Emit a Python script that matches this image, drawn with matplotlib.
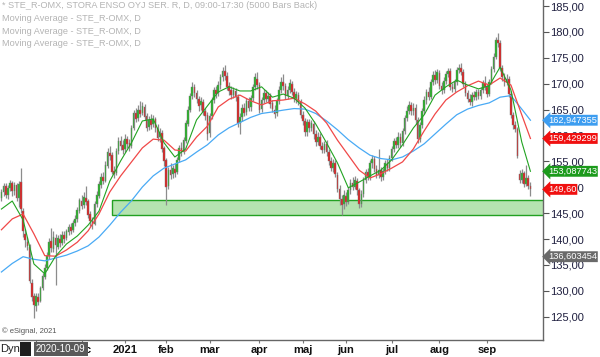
import numpy as np
import matplotlib
matplotlib.use("Agg")
import matplotlib.pyplot as plt
from matplotlib.patches import Rectangle
from matplotlib.ticker import FuncFormatter

plt.rcParams['font.family'] = ['Liberation Sans', 'DejaVu Sans']

# daily candles STE_R-OMX, 2020-10-09 .. 2021-09-29 (trading-day index)
opens = [148.0, 149.0, 150.2, 148.6, 149.8, 150.8, 149.2, 150.4, 148.0, 151.0,
         145.5, 141.0, 139.5, 138.5, 131.5, 129.0, 127.0, 128.8, 128.0, 130.5,
         132.6, 134.5, 136.8, 139.6, 138.0, 140.3, 138.5, 140.0, 139.3, 140.8,
         140.2, 141.4, 142.3, 141.8, 143.1, 143.8, 145.5, 147.4, 146.5, 148.0,
         147.3, 144.8, 143.4, 143.0, 146.7, 148.4, 150.5, 152.0, 151.3, 154.2,
         156.7, 156.2, 153.2, 152.8, 157.0, 159.0, 158.2, 157.4, 159.3, 158.5,
         158.0, 161.4, 164.3, 163.3, 165.0, 164.3, 165.5, 163.7, 161.6, 163.0,
         162.2, 163.1, 161.5, 159.7, 160.5, 157.5, 155.2, 150.2, 153.3, 152.5,
         153.6, 153.0, 155.2, 157.5, 156.9, 159.0, 162.3, 165.0, 167.6, 169.3,
         168.2, 167.0, 165.8, 166.5, 164.7, 164.0, 160.4, 163.8, 166.8, 168.7,
         168.2, 169.8, 171.2, 172.4, 171.5, 169.5, 168.7, 167.8, 168.6, 167.5,
         162.5, 163.6, 165.3, 164.5, 166.6, 165.5, 167.2, 169.4, 171.0, 169.8,
         165.2, 166.8, 168.2, 167.0, 167.6, 166.2, 165.0, 164.3, 166.6, 168.8,
         170.4, 169.6, 167.6, 168.8, 170.0, 168.4, 167.0, 167.8, 166.4, 164.0,
         162.8, 160.6, 162.6, 161.4, 162.2, 160.2, 158.8, 159.8, 158.0, 157.2,
         158.4, 156.8, 155.0, 153.8, 154.6, 152.4, 149.6, 147.8, 146.8, 148.4,
         147.2, 149.4, 150.8, 150.0, 151.2, 149.4, 146.8, 148.8, 151.4, 153.0,
         152.0, 154.6, 155.4, 153.6, 152.4, 153.4, 152.0, 153.2, 154.6, 153.8,
         155.6, 157.4, 159.0, 158.2, 159.8, 158.6, 160.8, 163.4, 164.8, 165.8,
         164.8, 165.4, 163.0, 159.4, 162.0, 164.8, 166.8, 168.4, 167.4, 170.4,
         171.6, 170.8, 172.0, 169.6, 168.8, 170.6, 171.8, 172.4, 169.4, 169.0,
         170.4, 172.6, 173.0, 172.2, 170.0, 168.2, 167.0, 166.4, 167.8, 167.4,
         168.4, 167.6, 168.8, 170.2, 169.4, 168.0, 170.4, 172.8, 175.2, 178.4,
         177.8, 173.0, 171.2, 170.4, 171.0, 168.0, 164.0, 162.0, 161.2, 152.6,
         151.4, 152.8, 150.6, 151.8, 150.2]
highs = [149.6, 150.8, 150.8, 150.4, 151.4, 151.2, 151.0, 150.8, 151.2, 153.7,
         146.0, 142.0, 140.5, 139.0, 132.3, 129.6, 129.5, 129.5, 131.0, 133.5,
         135.2, 137.5, 140.2, 142.2, 141.5, 141.0, 140.8, 141.0, 141.5, 141.6,
         142.0, 143.0, 143.2, 143.6, 144.6, 146.2, 148.0, 148.6, 149.0, 150.2,
         147.8, 145.5, 144.3, 147.3, 149.2, 151.2, 152.8, 153.0, 155.0, 157.6,
         158.0, 156.8, 154.2, 157.6, 159.8, 160.0, 159.2, 160.2, 160.0, 159.4,
         162.0, 165.0, 165.3, 165.8, 166.6, 166.4, 166.0, 164.4, 163.8, 164.2,
         164.0, 163.6, 162.2, 161.4, 161.0, 158.0, 155.6, 154.0, 154.6, 154.4,
         154.6, 155.8, 158.2, 158.8, 159.8, 163.0, 165.6, 168.2, 170.4, 170.0,
         168.8, 167.6, 167.4, 167.0, 165.4, 164.6, 164.4, 167.4, 169.4, 169.6,
         170.6, 171.8, 173.2, 173.6, 172.2, 170.4, 169.6, 169.4, 169.2, 168.0,
         164.4, 166.0, 166.2, 167.2, 167.4, 167.8, 170.0, 172.0, 172.2, 170.4,
         167.4, 169.0, 168.8, 168.4, 168.2, 166.8, 165.8, 167.2, 169.6, 171.2,
         171.8, 170.2, 169.6, 171.0, 170.6, 169.2, 168.6, 168.4, 167.0, 164.8,
         163.4, 163.2, 163.2, 163.0, 162.8, 161.0, 160.6, 160.4, 158.8, 159.0,
         159.2, 157.4, 155.8, 155.4, 155.2, 153.0, 150.4, 148.6, 149.4, 149.0,
         150.0, 151.6, 152.0, 152.2, 151.8, 149.8, 149.4, 152.0, 153.6, 153.8,
         155.2, 156.2, 156.0, 154.4, 157.4, 154.0, 153.8, 155.2, 155.4, 156.2,
         158.0, 159.6, 159.8, 160.6, 160.4, 161.4, 164.0, 165.6, 166.6, 166.4,
         166.2, 166.0, 163.6, 162.6, 165.4, 167.6, 169.0, 169.4, 171.0, 172.4,
         172.6, 172.8, 172.6, 170.4, 171.2, 172.4, 173.0, 173.0, 170.2, 171.0,
         173.2, 173.8, 174.0, 172.8, 170.6, 168.8, 168.0, 168.4, 168.6, 169.0,
         169.0, 169.4, 170.8, 171.4, 170.0, 171.0, 173.4, 176.0, 179.0, 179.8,
         178.4, 173.6, 172.0, 171.8, 171.4, 168.6, 164.6, 162.8, 161.6, 153.4,
         153.6, 153.2, 154.4, 152.4, 151.0]
lows = [147.4, 148.4, 148.0, 147.8, 149.2, 148.4, 148.6, 147.4, 146.2, 145.0,
        140.5, 138.5, 137.8, 131.5, 128.0, 124.8, 126.2, 127.2, 127.8, 130.2,
        132.3, 134.0, 136.2, 137.5, 137.6, 131.2, 138.0, 138.5, 138.9, 139.2,
        139.8, 140.8, 141.0, 141.3, 142.5, 143.3, 145.0, 145.8, 146.0, 146.5,
        144.0, 142.6, 141.9, 142.7, 146.2, 148.0, 149.8, 150.6, 151.0, 153.8,
        155.2, 152.5, 151.8, 152.4, 156.5, 157.2, 156.4, 156.8, 157.6, 157.0,
        157.6, 161.0, 162.6, 162.8, 163.6, 163.9, 163.0, 160.8, 161.0, 161.3,
        161.6, 160.6, 159.0, 158.8, 156.8, 154.2, 146.6, 149.6, 151.6, 151.8,
        152.0, 152.6, 154.8, 156.0, 156.4, 158.6, 161.8, 164.5, 167.0, 167.4,
        166.2, 164.8, 165.0, 164.0, 163.0, 159.2, 159.8, 163.2, 166.2, 167.2,
        167.6, 169.0, 170.6, 170.8, 168.8, 167.8, 167.0, 167.2, 166.6, 161.6,
        160.2, 162.8, 163.8, 164.0, 164.8, 164.8, 166.6, 168.8, 169.0, 164.4,
        164.6, 166.2, 166.4, 166.2, 165.4, 164.6, 163.4, 163.8, 166.0, 168.2,
        168.8, 167.0, 167.0, 168.2, 167.8, 166.4, 166.2, 165.8, 163.4, 162.0,
        160.0, 160.0, 160.6, 160.8, 159.4, 158.0, 158.2, 157.4, 156.6, 156.6,
        156.0, 154.4, 153.2, 153.0, 152.0, 149.0, 146.6, 144.7, 145.8, 146.4,
        146.8, 148.8, 149.4, 149.6, 148.6, 146.0, 146.2, 148.2, 150.8, 151.4,
        151.4, 153.8, 153.0, 151.8, 151.8, 151.2, 151.4, 152.6, 153.2, 153.2,
        155.0, 156.8, 157.6, 157.6, 157.8, 158.0, 160.2, 162.8, 164.2, 164.0,
        164.0, 162.2, 158.6, 158.8, 161.4, 164.2, 166.0, 166.8, 167.0, 169.8,
        170.0, 170.2, 169.0, 168.0, 168.2, 170.0, 171.2, 168.8, 168.4, 168.4,
        169.8, 172.0, 171.6, 169.4, 167.6, 166.4, 165.8, 165.6, 166.8, 166.8,
        167.0, 167.0, 168.2, 168.8, 167.4, 167.6, 170.0, 172.2, 174.8, 177.0,
        172.4, 170.6, 169.6, 169.8, 167.4, 163.4, 161.2, 160.6, 155.6, 150.8,
        150.8, 150.0, 150.2, 149.6, 148.4]
closes = [149.0, 150.2, 148.6, 149.8, 150.8, 149.2, 150.4, 148.0, 150.6, 145.8,
          141.5, 139.8, 138.6, 132.0, 128.8, 127.2, 129.0, 127.8, 130.5, 132.8,
          134.5, 136.8, 139.5, 138.2, 140.5, 138.8, 140.2, 139.2, 140.8, 140.0,
          141.5, 142.4, 141.6, 143.2, 143.9, 145.6, 147.5, 146.4, 148.2, 147.2,
          144.6, 143.5, 142.9, 146.8, 148.5, 150.6, 152.0, 151.2, 154.3, 156.8,
          156.0, 153.0, 152.6, 157.0, 159.0, 158.0, 157.2, 159.4, 158.4, 157.8,
          161.5, 164.4, 163.2, 165.0, 164.2, 165.6, 163.6, 161.5, 163.0, 162.0,
          163.2, 161.4, 159.6, 160.6, 157.4, 155.0, 150.0, 153.4, 152.4, 153.8,
          152.8, 155.2, 157.6, 156.8, 159.2, 162.4, 165.0, 167.6, 169.4, 168.2,
          167.0, 165.6, 166.6, 164.6, 163.8, 160.2, 163.8, 166.8, 168.8, 168.0,
          169.8, 171.2, 172.4, 171.4, 169.4, 168.6, 167.8, 168.8, 167.4, 162.4,
          163.6, 165.4, 164.4, 166.6, 165.4, 167.2, 169.4, 171.2, 169.8, 165.0,
          166.8, 168.2, 167.0, 167.6, 166.0, 165.2, 164.2, 166.6, 168.8, 170.4,
          169.6, 167.6, 168.8, 170.2, 168.4, 167.0, 168.0, 166.4, 164.0, 162.8,
          160.6, 162.6, 161.4, 162.4, 160.2, 158.8, 159.8, 158.0, 157.2, 158.4,
          156.8, 155.0, 153.8, 154.6, 152.6, 149.6, 147.8, 146.6, 148.6, 147.2,
          149.4, 150.8, 150.0, 151.4, 149.4, 146.8, 148.8, 151.4, 153.0, 152.0,
          154.6, 155.4, 153.6, 152.4, 153.4, 152.0, 153.2, 154.6, 153.8, 155.6,
          157.4, 159.0, 158.2, 159.8, 158.6, 160.8, 163.4, 164.8, 165.8, 164.8,
          165.4, 163.0, 159.4, 162.0, 164.8, 166.8, 168.4, 167.4, 170.4, 171.6,
          170.8, 172.2, 169.6, 168.8, 170.6, 171.8, 172.4, 169.4, 169.0, 170.4,
          172.6, 173.0, 172.2, 170.0, 168.2, 167.0, 166.4, 167.8, 167.4, 168.4,
          167.6, 168.8, 170.2, 169.4, 168.0, 170.4, 172.8, 175.2, 178.4, 177.8,
          173.0, 171.2, 170.4, 171.0, 168.0, 164.0, 162.0, 161.2, 156.0, 151.4,
          152.8, 150.6, 151.8, 150.2, 149.6]

# moving averages every 5 bars
ma_idx = list(range(0, 241, 5)) + [244]
ma_green = [145.8, 147.35, 143.7, 135.2, 133.3, 136.7, 139.05, 140.6, 142.7, 145.4,
            151.2, 155.1, 158.6, 162.8, 163.2, 158.6, 155.85, 157.4, 163.0, 165.7,
            168.4, 169.4, 168.6, 168.6, 169.4, 167.4, 168.0, 167.2, 165.3, 162.2,
            158.55, 154.7, 149.9, 151.0, 152.2, 153.3, 155.3, 158.2, 161.45, 164.0,
            167.8, 169.4, 170.7, 169.75, 169.0, 169.6, 173.2, 168.8, 158.75, 153.09]
ma_red = [141.8, 143.9, 144.85, 141.0, 136.8, 136.7, 137.9, 139.4, 141.6, 144.85,
          149.1, 152.2, 154.9, 157.6, 159.3, 159.1, 157.2, 157.0, 159.7, 161.8,
          165.5, 167.0, 167.8, 166.7, 165.9, 166.7, 166.85, 167.2, 166.1, 164.7,
          162.4, 159.1, 156.2, 153.3, 151.8, 152.6, 153.7, 154.9, 157.4, 160.9,
          164.15, 166.85, 168.4, 169.6, 170.5, 169.75, 171.1, 169.75, 164.0, 159.43]
ma_blue = [133.65, 135.3, 136.6, 136.1, 135.8, 136.35, 136.9, 137.7, 138.7, 140.4,
           142.7, 145.2, 147.4, 150.05, 152.2, 153.7, 154.5, 155.3, 156.8, 158.2,
           160.1, 161.5, 162.5, 163.5, 164.25, 164.55, 164.9, 165.2, 165.1, 164.25,
           162.8, 161.1, 159.2, 157.6, 156.2, 155.55, 155.3, 155.85, 157.0, 158.4,
           160.3, 162.2, 164.0, 165.1, 165.8, 166.3, 167.4, 167.7, 165.1, 162.95]

# support zone
zone_start = 51
zone_low, zone_high = 144.7, 147.6

# month ticks (first trading day index); nov sits under the date box
month_idx = [16, 37, 57, 76, 96, 119, 139, 159, 180, 202, 224]
month_lbl = ['', 'dec', '2021', 'feb', 'mar', 'apr', 'maj', 'jun', 'jul', 'aug', 'sep']

# last-value tags on the price scale
tag_vals = [162.947355, 159.429299, 153.087743, 149.60, 136.603454]
tag_txt = ['162,947355', '159,429299', '153,087743', '149,60', '136,603454']
tag_col = ['#3d9df0', '#f01010', '#1c9a1c', '#f01010', '#6a6a6a']

o = np.array(opens)
h = np.array(highs)
l = np.array(lows)
c = np.array(closes)
idx = np.arange(len(c))

fig = plt.figure(figsize=(6, 3.57), dpi=100)
ax = fig.add_axes([0, 17 / 357, 543 / 600, 340 / 357])

ax.add_patch(Rectangle((zone_start, zone_low), 300, zone_high - zone_low,
                       facecolor='#b5e3b0', edgecolor='#22a022', linewidth=1.0, zorder=1))

up = c >= o
body = np.maximum(np.abs(c - o), 0.25)
ax.vlines(idx, l, h, color='#8c8c8c', linewidth=0.9, zorder=2)
ax.bar(idx, body, bottom=np.minimum(o, c), width=0.75,
       color=np.where(up, '#25b525', '#e02020'), edgecolor='#7a7a7a', linewidth=0.3, zorder=3)

ax.plot(ma_idx, ma_blue, color='#49aaf5', linewidth=0.9, zorder=4)
ax.plot(ma_idx, ma_red, color='#f04848', linewidth=0.9, zorder=4)
ax.plot(ma_idx, ma_green, color='#22a322', linewidth=0.8, zorder=4)

ax.set_xlim(-0.65, 249.8)
ax.set_ylim(120.52, 186.16)

ax.yaxis.tick_right()
ax.set_yticks(np.arange(125, 186, 5))
ax.yaxis.set_major_formatter(FuncFormatter(lambda v, p: f'{v:.2f}'.replace('.', ',')))
ax.tick_params(axis='y', length=4, width=0.8, color='#555555', labelsize=8,
               labelcolor='#202040', pad=1)
ax.set_xticks(month_idx)
ax.set_xticklabels(month_lbl, fontweight='bold')
ax.tick_params(axis='x', length=2, width=0.8, color='#777777', labelsize=8,
               labelcolor='#111111', pad=1.5)

for s in ['left', 'top']:
    ax.spines[s].set_visible(False)
for s in ['right', 'bottom']:
    ax.spines[s].set_color('#666666')
    ax.spines[s].set_linewidth(1.0)

for v, t, col in zip(tag_vals, tag_txt, tag_col):
    ax.annotate(t, xy=(1, v), xycoords=('axes fraction', 'data'),
                xytext=(3.5, 0), textcoords='offset points', ha='left', va='center',
                color='white', fontsize=6.7, annotation_clip=False, zorder=6,
                bbox=dict(boxstyle='larrow,pad=0.1', fc=col, ec='none'))

legend_lines = ['* STE_R-OMX, STORA ENSO OYJ SER. R, D, 09:00-17:30 (5000 Bars Back)',
                'Moving Average - STE_R-OMX, D',
                'Moving Average - STE_R-OMX, D',
                'Moving Average - STE_R-OMX, D']
for k, t in enumerate(legend_lines):
    fig.text(2 / 600, 1 - (6 + 12.5 * k) / 357, t, fontsize=6.6, color='#b4b4b4',
             ha='left', va='center')

fig.text(2 / 600, 1 - 331 / 357, '\u00a9 eSignal, 2021', fontsize=5.5, color='#555555',
         ha='left', va='center')

fig.text(0, 1 - 349 / 357, 'Dyn', fontsize=8, color='#222222', ha='left', va='center')
fig.patches.append(Rectangle((20 / 600, 1 / 357), 11 / 600, 14 / 357, transform=fig.transFigure,
                             facecolor='#1e1e1e', edgecolor='none', figure=fig))
fig.text(36 / 600, 1 - 349 / 357, '2020-10-09', fontsize=7.0, color='white', ha='left', va='center',
         bbox=dict(boxstyle='square,pad=0.2', fc='#5a5a5a', ec='none'), zorder=10)

fig.savefig('out.png', dpi=100)
